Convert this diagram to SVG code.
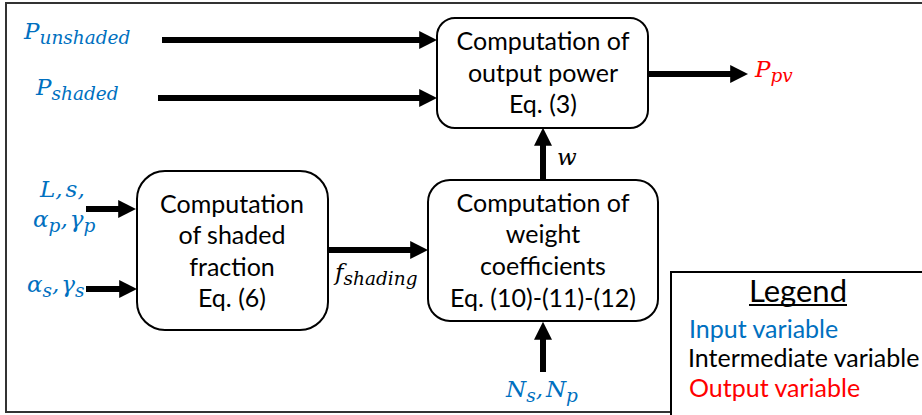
<svg xmlns="http://www.w3.org/2000/svg" width="922" height="415" viewBox="0 0 922 415">
<defs>
<marker id="ah" viewBox="0 0 10 10" refX="1" refY="5" markerWidth="3" markerHeight="3" orient="auto" markerUnits="strokeWidth">
<path d="M0,0 L10,5 L0,10 z" fill="#000"/>
</marker>
</defs>
<style>
.frame{fill:#fff;stroke:#333;stroke-width:2}
.box{fill:#fff;stroke:#000;stroke-width:2}
.lbl{font-family:Lato,"Liberation Sans",sans-serif;font-size:25px;fill:#000;text-anchor:middle}
.leg{font-family:Lato,"Liberation Sans",sans-serif;font-size:25px}
.legt{font-family:Lato,"Liberation Sans",sans-serif;font-size:31px;text-anchor:middle;fill:#000}
.math{font-family:"DejaVu Serif",serif;font-style:italic;font-size:23px}
.sub{font-size:18.5px}
.in{fill:#0070C0}
.out{fill:#FF0000}
.conn{stroke:#000;stroke-width:6;fill:none;marker-end:url(#ah)}
</style>
<rect class="frame" x="6" y="3" width="930" height="409"/>

<g id="node-output-power">
<rect class="box" x="437" y="18" width="211" height="110" rx="18"/>
<text class="lbl" x="543" y="50">Computation of</text>
<text class="lbl" x="543" y="82">output power</text>
<text class="lbl" x="543" y="113">Eq. (3)</text>
</g>

<g id="node-shaded-fraction">
<rect class="box" x="137" y="171" width="191" height="159" rx="28"/>
<text class="lbl" x="232" y="213">Computation</text>
<text class="lbl" x="232" y="244">of shaded</text>
<text class="lbl" x="232" y="276">fraction</text>
<text class="lbl" x="232" y="307">Eq. (6)</text>
</g>

<g id="node-weight">
<rect class="box" x="428" y="180" width="230" height="141" rx="22"/>
<text class="lbl" x="543" y="212">Computation of</text>
<text class="lbl" x="543" y="243">weight</text>
<text class="lbl" x="543" y="275">coefficients</text>
<text class="lbl" x="543" y="307">Eq. (10)-(11)-(12)</text>
</g>

<g id="inputs">
<text class="math in" x="24" y="39">P<tspan class="sub" dy="5">unshaded</tspan></text>
<text class="math in" x="36" y="95">P<tspan class="sub" dy="5">shaded</tspan></text>
<text class="math in" x="40" y="197">L,<tspan dx="3">s</tspan>,</text>
<text class="math in" x="33" y="227">α<tspan class="sub" dy="5">p</tspan><tspan dy="-5">,</tspan><tspan dx="2">γ</tspan><tspan class="sub" dy="5">p</tspan></text>
<text class="math in" x="27" y="292">α<tspan class="sub" dy="5">s</tspan><tspan dy="-5">,</tspan><tspan dx="2">γ</tspan><tspan class="sub" dy="5">s</tspan></text>
<text class="math in" x="506" y="397">N<tspan class="sub" dy="5">s</tspan><tspan dy="-5">,</tspan><tspan dx="3">N</tspan><tspan class="sub" dy="5">p</tspan></text>
</g>

<g id="intermediate">
<text class="math" x="335" y="280">f<tspan class="sub" dy="5">shading</tspan></text>
<text class="math" x="557" y="165">w</text>
</g>

<g id="output">
<text class="math out" x="755" y="77">P<tspan class="sub" dy="5">pv</tspan></text>
</g>

<g id="connectors">
<line class="conn" x1="162" y1="40" x2="421" y2="40"/>
<line class="conn" x1="158" y1="98" x2="421" y2="98"/>
<line class="conn" x1="648" y1="74" x2="732" y2="74"/>
<line class="conn" x1="543" y1="180" x2="543" y2="144"/>
<line class="conn" x1="86" y1="209" x2="120" y2="209"/>
<line class="conn" x1="86" y1="289" x2="121" y2="289"/>
<line class="conn" x1="328" y1="250" x2="412" y2="250"/>
<line class="conn" x1="543" y1="372" x2="543" y2="338"/>
</g>

<g id="legend">
<rect x="671" y="272" width="260" height="145" fill="#fff" stroke="#000" stroke-width="2"/>
<text class="legt" x="798" y="302">Legend</text>
<line x1="749" y1="305" x2="847" y2="305" stroke="#000" stroke-width="2"/>
<text class="leg in" x="689" y="338">Input variable</text>
<text class="leg" x="688" y="367" fill="#000">Intermediate variable</text>
<text class="leg out" x="689" y="397">Output variable</text>
</g>
</svg>
